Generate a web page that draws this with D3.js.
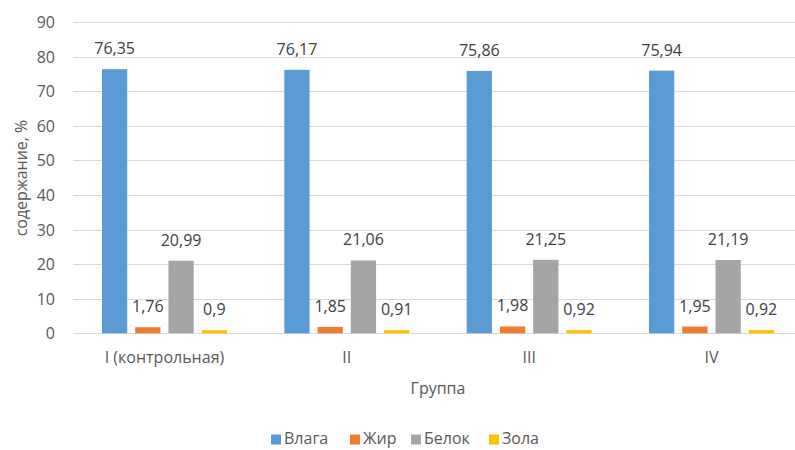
<!DOCTYPE html>
<html><head><meta charset="utf-8">
<script src="https://cdn.jsdelivr.net/npm/d3@7"></script>
<style>body{margin:0;background:#fff}svg{display:block}text{font-family:"Open Sans","Noto Sans",sans-serif}</style>
</head><body><svg id="c" width="795" height="450"></svg>
<script>
const categories = ["I (контрольная)", "II", "III", "IV"];
const seriesNames = ["Влага", "Жир", "Белок", "Зола"];
const vlaga = [76.35, 76.17, 75.86, 75.94];
const zhir = [1.76, 1.85, 1.98, 1.95];
const belok = [20.99, 21.06, 21.25, 21.19];
const zola = [0.9, 0.91, 0.92, 0.92];
const labelsVlaga = ["76,35", "76,17", "75,86", "75,94"];
const labelsZhir = ["1,76", "1,85", "1,98", "1,95"];
const labelsBelok = ["20,99", "21,06", "21,25", "21,19"];
const labelsZola = ["0,9", "0,91", "0,92", "0,92"];
const yTicks = [0, 10, 20, 30, 40, 50, 60, 70, 80, 90];
const colors = ["#5B9BD5", "#ED7D31", "#A5A5A5", "#FFC000"];

const series = [vlaga, zhir, belok, zola];
const labels = [labelsVlaga, labelsZhir, labelsBelok, labelsZola];

const FS = "16px";
const svg = d3.select("#c");
const pLeft = 73.3, pRight = 802.7, pTop = 22, pBottom = 333.3;
const x = d3.scaleBand().domain(categories).range([pLeft, pRight]).paddingInner(0).paddingOuter(0);
const y = d3.scaleLinear().domain([0, 90]).range([pBottom, pTop]);
const groupW = 125;
const xs = d3.scaleBand().domain(d3.range(4)).range([0, groupW]).paddingInner(0.24).paddingOuter(0);

// gridlines
svg.append("g").selectAll("line").data(yTicks).join("line")
  .attr("x1", pLeft).attr("x2", pRight)
  .attr("y1", d => Math.round(y(d)) + 0.5).attr("y2", d => Math.round(y(d)) + 0.5)
  .attr("stroke", "#d9d9d9").attr("stroke-width", 1);

// y axis labels
const yAxis = d3.axisLeft(y).tickValues(yTicks).tickSize(0).tickPadding(0);
const ga = svg.append("g").attr("transform", `translate(55,0)`).call(yAxis);
ga.select(".domain").remove();
ga.selectAll("text").attr("fill", "#595959").style("font-size", FS).attr("dy", "0.35em");

// bars
series.forEach((vals, si) => {
  const g = svg.append("g");
  g.selectAll("rect").data(vals).join("rect")
    .attr("x", (d, i) => x(categories[i]) + x.bandwidth() / 2 - groupW / 2 + xs(si))
    .attr("width", xs.bandwidth())
    .attr("y", d => y(d))
    .attr("height", d => pBottom - y(d))
    .attr("fill", colors[si]);
  g.selectAll("text").data(vals).join("text")
    .attr("x", (d, i) => x(categories[i]) + x.bandwidth() / 2 - groupW / 2 + xs(si) + xs.bandwidth() / 2)
    .attr("y", d => y(d) - 15)
    .attr("text-anchor", "middle")
    .attr("fill", "#404040").style("font-size", FS)
    .text((d, i) => labels[si][i]);
});

// x axis
const xAxis = d3.axisBottom(x).tickSize(0).tickPadding(0);
const gx = svg.append("g").attr("transform", `translate(0,${pBottom})`).call(xAxis);
gx.select(".domain").remove();
gx.selectAll("text").attr("fill", "#595959").style("font-size", FS).attr("dy", null).attr("y", 30);

// axis titles
svg.append("text").attr("x", 438).attr("y", 394).attr("text-anchor", "middle")
  .attr("fill", "#595959").style("font-size", FS).text("Группа");
svg.append("text").attr("transform", "translate(27,178) rotate(-90)").attr("text-anchor", "middle")
  .attr("fill", "#595959").style("font-size", FS).text("содержание, %");

// legend
const legX = [271, 350, 411, 489];
const lg = svg.append("g");
seriesNames.forEach((n, i) => {
  lg.append("rect").attr("x", legX[i]).attr("y", 434.5).attr("width", 10).attr("height", 10).attr("fill", colors[i]);
  lg.append("text").attr("x", legX[i] + 13).attr("y", 444).attr("fill", "#595959").style("font-size", FS).text(n);
});
</script></body></html>
